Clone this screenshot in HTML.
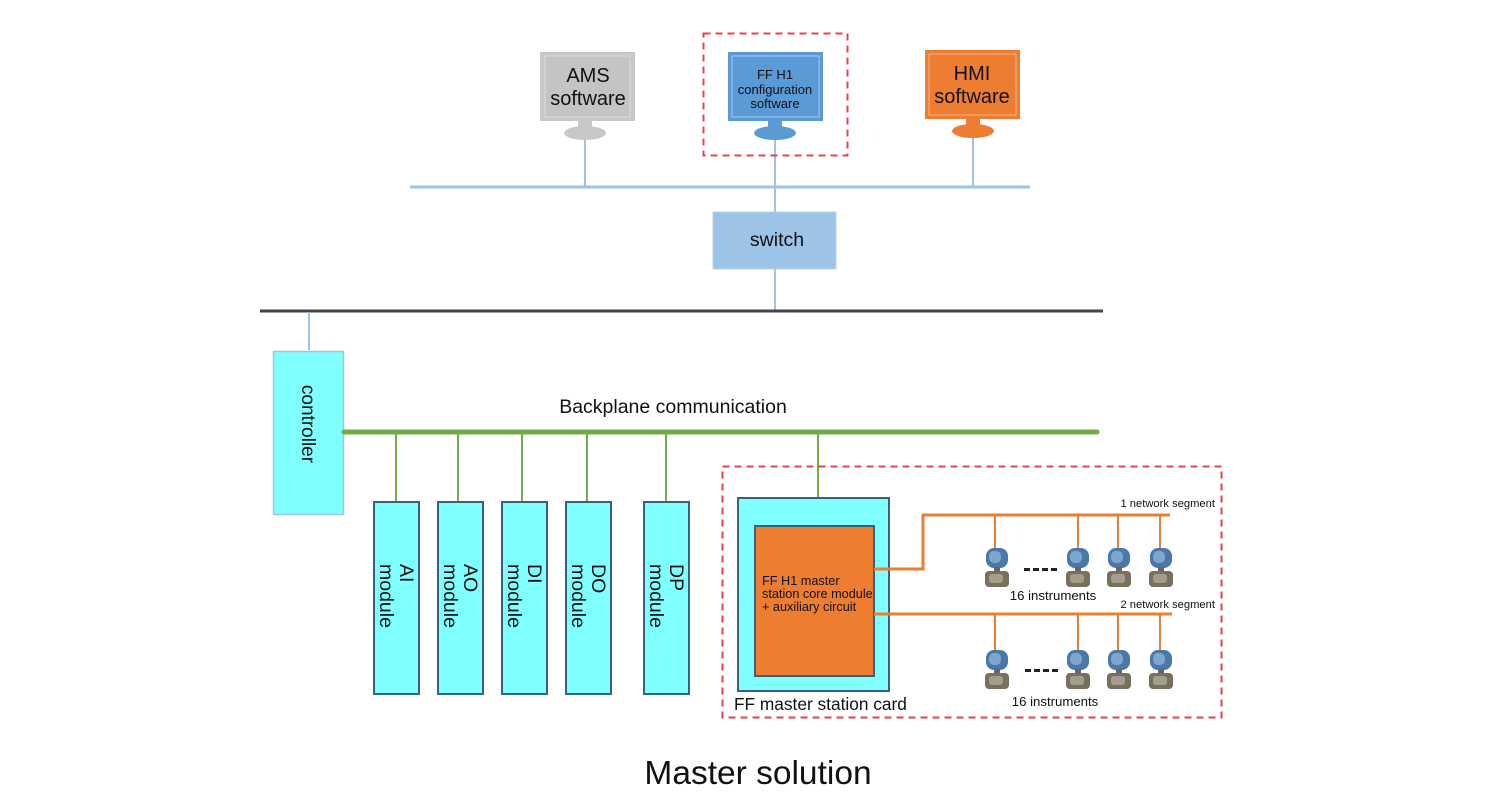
<!DOCTYPE html>
<html><head><meta charset="utf-8"><style>
html,body{margin:0;padding:0;background:#fff}
svg{display:block}
text{font-family:"Liberation Sans",Arial,sans-serif;fill:#111}
</style></head><body>
<svg width="1500" height="802" viewBox="0 0 1500 802" xmlns="http://www.w3.org/2000/svg">
<defs>
<g id="inst">
  <rect x="-11" y="0" width="22" height="20" rx="8" fill="#4a79a8"/>
  <rect x="-8" y="3" width="12" height="12" rx="5" fill="#7fa6cc"/>
  <rect x="-3" y="19" width="6" height="5" fill="#666"/>
  <rect x="-12" y="23" width="24" height="16" rx="4" fill="#77705f"/>
  <rect x="-8" y="26" width="14" height="9" rx="3" fill="#a39d8a"/>
</g>
</defs>

<line x1="410" y1="187" x2="1030" y2="187" stroke="#9dc3e6" stroke-width="3"/>
<line x1="585" y1="140" x2="585" y2="187" stroke="#9dc3e6" stroke-width="2"/>
<line x1="775" y1="140" x2="775" y2="212" stroke="#9dc3e6" stroke-width="2"/>
<line x1="973" y1="138" x2="973" y2="187" stroke="#9dc3e6" stroke-width="2"/>

<rect x="540" y="52" width="95" height="69" fill="#c8c8c8"/>
<rect x="545" y="56" width="85" height="61" fill="#c4c4c4" stroke="#ddd" stroke-width="1"/>
<rect x="578" y="121" width="14" height="8" fill="#c8c8c8"/>
<ellipse cx="585" cy="133" rx="21" ry="7" fill="#c8c8c8"/>
<text x="588" y="82" font-size="20" text-anchor="middle" fill="#222">AMS</text>
<text x="588" y="105" font-size="20" text-anchor="middle" fill="#222">software</text>

<rect x="703.5" y="33.5" width="144" height="122" fill="none" stroke="#e8404a" stroke-width="2" stroke-dasharray="7,5"/>
<rect x="728" y="52" width="95" height="69" fill="#5b9bd5"/>
<rect x="732" y="56" width="87" height="61" fill="#5a9ad6" stroke="#a8cbec" stroke-width="1"/>
<rect x="768" y="121" width="14" height="8" fill="#5b9bd5"/>
<ellipse cx="775" cy="133" rx="21" ry="7" fill="#5b9bd5"/>
<text x="775" y="79" font-size="13" text-anchor="middle" fill="#222">FF H1</text>
<text x="775" y="94" font-size="13" text-anchor="middle" fill="#222">configuration</text>
<text x="775" y="108" font-size="13" text-anchor="middle" fill="#222">software</text>

<rect x="925" y="50" width="95" height="69" fill="#ed7d31"/>
<rect x="929" y="54" width="87" height="61" fill="#ed7d31" stroke="#f5b58a" stroke-width="1"/>
<rect x="966" y="119" width="14" height="8" fill="#ed7d31"/>
<ellipse cx="973" cy="131" rx="21" ry="7" fill="#ed7d31"/>
<text x="972" y="80" font-size="20" text-anchor="middle" fill="#222">HMI</text>
<text x="972" y="103" font-size="20" text-anchor="middle" fill="#222">software</text>

<rect x="713" y="212" width="123" height="57" fill="#9dc3e6" stroke="#b8d3ee" stroke-width="1"/>
<text x="777" y="246" font-size="19.5" text-anchor="middle" fill="#222">switch</text>
<line x1="775" y1="269" x2="775" y2="311" stroke="#9dc3e6" stroke-width="2"/>

<line x1="260" y1="311" x2="1103" y2="311" stroke="#444" stroke-width="3"/>
<line x1="309" y1="312" x2="309" y2="350" stroke="#9dc3e6" stroke-width="2"/>

<rect x="273.5" y="351.5" width="70" height="163" fill="#80ffff" stroke="#9dc3e6" stroke-width="1.5"/>
<text transform="translate(302,424) rotate(90)" font-size="19" text-anchor="middle" fill="#222">controller</text>

<text x="673" y="413" font-size="19.5" text-anchor="middle" fill="#111">Backplane communication</text>
<line x1="344" y1="432" x2="1097" y2="432" stroke="#70ad47" stroke-width="5" stroke-linecap="round"/>
<g stroke="#70ad47" stroke-width="2">
<line x1="396" y1="432" x2="396" y2="502"/>
<line x1="458" y1="432" x2="458" y2="502"/>
<line x1="522" y1="432" x2="522" y2="502"/>
<line x1="587" y1="432" x2="587" y2="502"/>
<line x1="666" y1="432" x2="666" y2="502"/>
<line x1="818" y1="432" x2="818" y2="498"/>
</g>

<g fill="#80ffff" stroke="#3b5f7f" stroke-width="2">
<rect x="374" y="502" width="45" height="192"/>
<rect x="438" y="502" width="45" height="192"/>
<rect x="502" y="502" width="45" height="192"/>
<rect x="566" y="502" width="45" height="192"/>
<rect x="644" y="502" width="45" height="192"/>
</g>
<g font-size="19.5" fill="#222">
<text transform="translate(396,564) rotate(90)"><tspan x="0" y="-4">AI</tspan><tspan x="0" y="16">module</tspan></text>
<text transform="translate(460,564) rotate(90)"><tspan x="0" y="-4">AO</tspan><tspan x="0" y="16">module</tspan></text>
<text transform="translate(524,564) rotate(90)"><tspan x="0" y="-4">DI</tspan><tspan x="0" y="16">module</tspan></text>
<text transform="translate(588,564) rotate(90)"><tspan x="0" y="-4">DO</tspan><tspan x="0" y="16">module</tspan></text>
<text transform="translate(666,564) rotate(90)"><tspan x="0" y="-4">DP</tspan><tspan x="0" y="16">module</tspan></text>
</g>

<rect x="722.5" y="466.5" width="499" height="251" fill="none" stroke="#e8404a" stroke-width="2" stroke-dasharray="7,5"/>

<rect x="738" y="498" width="151" height="193" fill="#80ffff" stroke="#3b5f7f" stroke-width="2"/>
<rect x="755" y="526" width="119" height="150" fill="#ed7d31" stroke="#3b5f7f" stroke-width="2"/>
<g font-size="12.7" fill="#222">
<text x="762" y="585">FF H1 master</text>
<text x="762" y="598">station core module</text>
<text x="762" y="611">+ auxiliary circuit</text>
</g>
<text x="734" y="710" font-size="17.3" fill="#111">FF master station card</text>

<g stroke="#ed7d31" stroke-width="3" fill="none">
<polyline points="874,569 923,569 923,515 1170,515"/>
<line x1="874" y1="614" x2="1172" y2="614"/>
</g>
<g stroke="#ed7d31" stroke-width="2">
<line x1="995" y1="515" x2="995" y2="548"/>
<line x1="1078" y1="515" x2="1078" y2="548"/>
<line x1="1118" y1="515" x2="1118" y2="548"/>
<line x1="1160" y1="515" x2="1160" y2="548"/>
<line x1="995" y1="614" x2="995" y2="650"/>
<line x1="1078" y1="614" x2="1078" y2="650"/>
<line x1="1118" y1="614" x2="1118" y2="650"/>
<line x1="1160" y1="614" x2="1160" y2="650"/>
</g>
<use href="#inst" x="997" y="548"/>
<use href="#inst" x="1078" y="548"/>
<use href="#inst" x="1119" y="548"/>
<use href="#inst" x="1161" y="548"/>
<use href="#inst" x="997" y="650"/>
<use href="#inst" x="1078" y="650"/>
<use href="#inst" x="1119" y="650"/>
<use href="#inst" x="1161" y="650"/>
<g fill="#222">
<rect x="1024" y="568" width="6" height="3"/><rect x="1033" y="568" width="6" height="3"/><rect x="1042" y="568" width="6" height="3"/><rect x="1051" y="568" width="6" height="3"/>
<rect x="1025" y="669" width="6" height="3"/><rect x="1034" y="669" width="6" height="3"/><rect x="1043" y="669" width="6" height="3"/><rect x="1052" y="669" width="6" height="3"/>
</g>
<text x="1053" y="600" font-size="13.2" text-anchor="middle">16 instruments</text>
<text x="1055" y="706" font-size="13.2" text-anchor="middle">16 instruments</text>
<text x="1215" y="507" font-size="11.2" text-anchor="end">1 network segment</text>
<text x="1215" y="608" font-size="11.2" text-anchor="end">2 network segment</text>

<text x="758" y="784" font-size="33.5" text-anchor="middle" fill="#111">Master solution</text>
</svg>
</body></html>
